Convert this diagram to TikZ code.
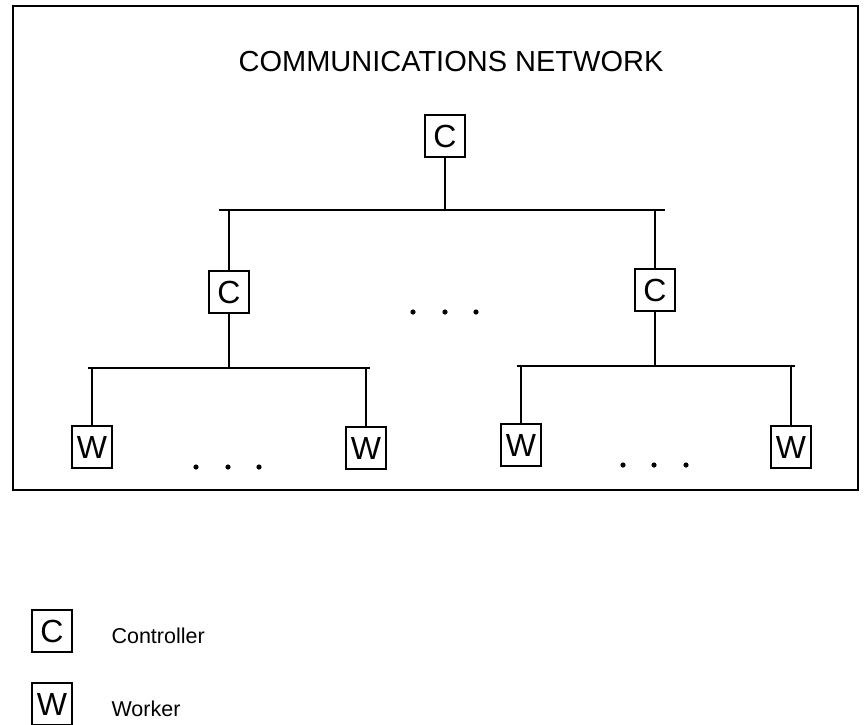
\documentclass[tikz,border=0pt]{standalone}
\usepackage{fontspec}
\setmainfont{Liberation Sans}

\begin{document}
\begin{tikzpicture}[
            x=1pt, y=-1pt,
            unit/.style={draw, line width=1.3pt, minimum width=40pt, minimum height=42pt, inner sep=0pt, font=\fontsize{32}{32}\selectfont},
            wire/.style={line width=1.2pt},
            title/.style={font=\fontsize{29}{29}\selectfont},
            legend/.style={anchor=west, font=\fontsize{21.5}{21.5}\selectfont}
        ]
            \useasboundingbox (0,0) rectangle (865,724);
            \draw[line width=1.6pt] (13,6) rectangle (858,490);
            \node[title] (net) at (451,62) {COMMUNICATIONS NETWORK};
            % controllers
            \node[unit] (top) at (445,136) {C};
            \node[unit] (ctrlL) at (229,292) {C};
            \node[unit] (ctrlR) at (655,290) {C};
            % workers
            \node[unit] (wA) at (92,447) {W};
            \node[unit] (wB) at (366,448) {W};
            \node[unit] (wC) at (521,445) {W};
            \node[unit] (wD) at (791,447) {W};
            % buses
            \coordinate (busT1) at (219,210);
            \coordinate (busT2) at (665,210);
            \coordinate (busL1) at (88,368);
            \coordinate (busL2) at (370,368);
            \coordinate (busR1) at (517,366);
            \coordinate (busR2) at (795,366);
            \draw[wire] (busT1) -- (busT2);
            \draw[wire] (busL1) -- (busL2);
            \draw[wire] (busR1) -- (busR2);
            \draw[wire] (top.south) -- (top.south |- busT1);
            \draw[wire] (ctrlL.north |- busT1) -- (ctrlL.north);
            \draw[wire] (ctrlR.north |- busT1) -- (ctrlR.north);
            \draw[wire] (ctrlL.south) -- (ctrlL.south |- busL1);
            \draw[wire] (ctrlR.south) -- (ctrlR.south |- busR1);
            \draw[wire] (wA.north |- busL1) -- (wA.north);
            \draw[wire] (wB.north |- busL1) -- (wB.north);
            \draw[wire] (wC.north |- busR1) -- (wC.north);
            \draw[wire] (wD.north |- busR1) -- (wD.north);
            % dots
            \foreach \dx in {413,445,476} \fill (\dx,312) circle (2.6);
            \foreach \dx in {196,228,259} \fill (\dx,467) circle (2.6);
            \foreach \dx in {623,654,686} \fill (\dx,465) circle (2.6);
            % legend
            \node[unit] (keyC) at (52,631) {C};
            \node[unit] (keyW) at (52,704) {W};
            \node[legend] (keyCtext) at (108,636) {Controller};
            \node[legend] (keyWtext) at (108,709) {Worker};
        \end{tikzpicture}
\end{document}
